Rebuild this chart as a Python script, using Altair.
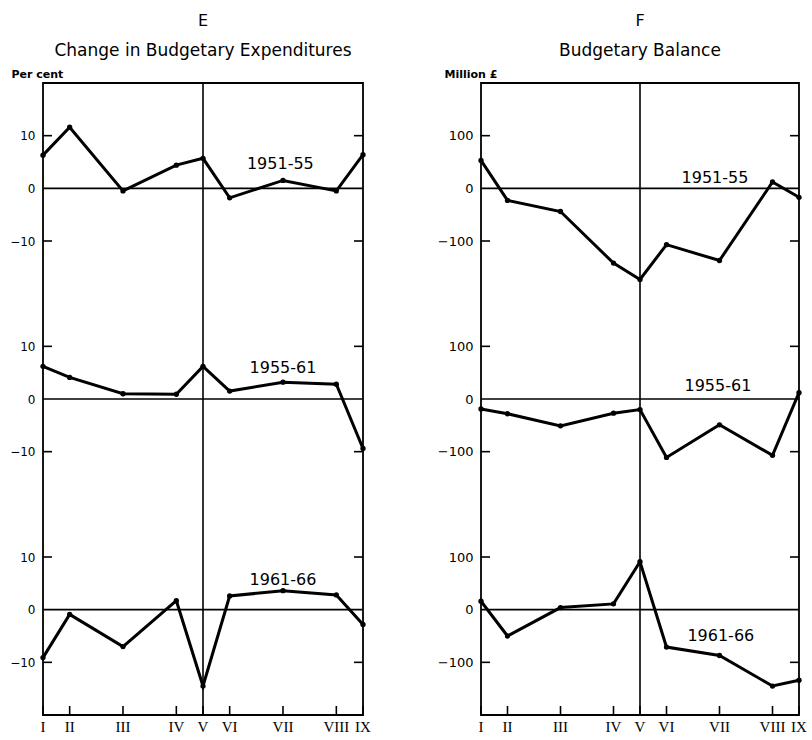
import altair as alt
import pandas as pd

# Stages of the cycle and their spacing along the time axis
stages = ["I", "II", "III", "IV", "V", "VI", "VII", "VIII", "IX"]
stage_pos = [0, 1, 3, 5, 6, 7, 9, 11, 12]
periods = ["1951-55", "1955-61", "1961-66"]

# E: change in budgetary expenditures, per cent
exp_1951_55 = [6.3, 11.6, -0.5, 4.4, 5.7, -1.8, 1.5, -0.5, 6.4]
exp_1955_61 = [6.2, 4.1, 1.0, 0.9, 6.2, 1.5, 3.2, 2.8, -9.4]
exp_1961_66 = [-9.1, -0.9, -7.0, 1.7, -14.5, 2.6, 3.6, 2.8, -2.8]

# F: budgetary balance, million pounds
bal_1951_55 = [53, -23, -44, -142, -173, -107, -137, 12, -17]
bal_1955_61 = [-19, -28, -51, -27, -20, -111, -49, -107, 12]
bal_1961_66 = [16, -50, 4, 11, 91, -71, -87, -145, -134]

# Where each period's name is written (stage position, value)
exp_label_at = [(8.9, 4.6), (9.0, 5.8), (9.0, 5.7)]
bal_label_at = [(8.83, 20), (8.94, 25), (9.05, -50)]

FONT = "DejaVu Sans"
SERIF = "Liberation Serif"
PLOT_H = 632
TICK = 9


def panel(series, span, letter, title, unit, label_at, width, unit_x, num_size):
    band = 2 * span  # vertical room given to each period
    rows = []
    for k, (period, vals) in enumerate(zip(periods, series)):
        for s, p, v in zip(stages, stage_pos, vals):
            rows.append(dict(period=period, band=k, stage=s, pos=p, value=v))
    df = pd.DataFrame(rows)

    zeros = pd.DataFrame({"period": periods, "band": list(range(len(periods)))})
    labels = pd.DataFrame({
        "period": periods,
        "band": list(range(len(periods))),
        "pos": [a[0] for a in label_at],
        "value": [a[1] for a in label_at],
    })
    vline = pd.DataFrame({"pos": [stage_pos[stages.index("V")]]})

    shift = f"datum.value - datum.band * {band}"
    label_vals = []
    for k in range(len(periods)):
        z = -k * band
        label_vals += [z + span / 2, z, z - span / 2]
    tick_df = pd.DataFrame({"t": [t for t in label_vals if t % band != 0]})
    stage_df = pd.DataFrame({"pos": stage_pos, "stage": stages})

    xs = alt.Scale(domain=[0, 12], nice=False, zero=False)
    ys = alt.Scale(domain=[span - len(periods) * band, span], nice=False, zero=False)

    lab_expr = f"format(datum.value - round(datum.value / {band}) * {band} + 0, 'd')"

    left_axis = alt.Axis(
        orient="left", values=label_vals, labelExpr=lab_expr, ticks=False,
        domain=False, grid=False, labelPadding=8, labelFont=FONT,
        labelFontSize=num_size, labelColor="black",
        title=unit, titleAngle=0, titleX=unit_x, titleY=-6, titleAlign="left",
        titleBaseline="alphabetic", titleFont=FONT, titleFontSize=11,
        titleFontWeight="bold", titleColor="black",
    )

    # the remaining layers share these scales and the axes defined above;
    # the stage names are written by a text layer below the frame
    X = alt.X("pos:Q", scale=xs)

    lines = alt.Chart(df).transform_calculate(y=shift).mark_line(
        color="black", strokeWidth=3, clip=False
    ).encode(
        x=alt.X("pos:Q", scale=xs, axis=None),
        y=alt.Y("y:Q", scale=ys, axis=left_axis),
        detail="period:N",
    )
    dots = alt.Chart(df).transform_calculate(y=shift).mark_circle(
        color="black", size=28, opacity=1, clip=False
    ).encode(x=X, y=alt.Y("y:Q", scale=ys))
    zero_rules = alt.Chart(zeros).transform_calculate(
        y=f"-datum.band * {band}"
    ).mark_rule(color="black", strokeWidth=1.6).encode(
        y=alt.Y("y:Q", scale=ys),
    )
    v_rule = alt.Chart(vline).mark_rule(color="black", strokeWidth=1.6).encode(x=X)
    # inward tick marks on both vertical edges and along the bottom edge
    ticks_l = alt.Chart(tick_df).transform_calculate(y="datum.t").mark_rule(
        color="black", strokeWidth=1.6
    ).encode(y=alt.Y("y:Q", scale=ys), x=alt.value(0), x2=alt.value(TICK))
    ticks_r = alt.Chart(tick_df).transform_calculate(y="datum.t").mark_rule(
        color="black", strokeWidth=1.6
    ).encode(
        y=alt.Y("y:Q", scale=ys),
        x=alt.value(width - TICK), x2=alt.value(width),
    )
    ticks_b = alt.Chart(stage_df).mark_rule(color="black", strokeWidth=1.6).encode(
        x=X, y=alt.value(PLOT_H - TICK), y2=alt.value(PLOT_H),
    )
    stage_names = alt.Chart(stage_df).mark_text(
        font=SERIF, fontSize=15, color="black", align="center", baseline="middle"
    ).encode(x=X, y=alt.value(PLOT_H + 12), text="stage:N")
    names = alt.Chart(labels).transform_calculate(y=shift).mark_text(
        font=FONT, fontSize=16, color="black", align="center", baseline="middle"
    ).encode(x=X, y=alt.Y("y:Q", scale=ys), text="period:N")

    return alt.layer(
        lines, zero_rules, v_rule, ticks_l, ticks_r, ticks_b, dots, names,
        stage_names,
    ).properties(
        width=width,
        height=PLOT_H,
        title=alt.TitleParams(
            text=letter, subtitle=title, font=FONT, fontSize=16,
            fontWeight="normal", subtitleFont=FONT, subtitleFontSize=17,
            subtitleColor="black", subtitlePadding=14, anchor="middle",
            offset=9, color="black",
        ),
    )


left = panel(
    [exp_1951_55, exp_1955_61, exp_1961_66], 20, "E",
    "Change in Budgetary Expenditures", "Per cent", exp_label_at, 320, -32, 12,
)
right = panel(
    [bal_1951_55, bal_1955_61, bal_1961_66], 200, "F",
    "Budgetary Balance", "Million \u00a3", bal_label_at, 318, -37, 13,
)

chart = alt.hconcat(left, right, spacing=64).properties(
    padding={"left": 8, "top": 12, "right": 2, "bottom": 0},
    background="white",
).configure_view(stroke="black", strokeWidth=1.8)

chart.save("out.html", embed_options={"renderer": "svg", "actions": False})
